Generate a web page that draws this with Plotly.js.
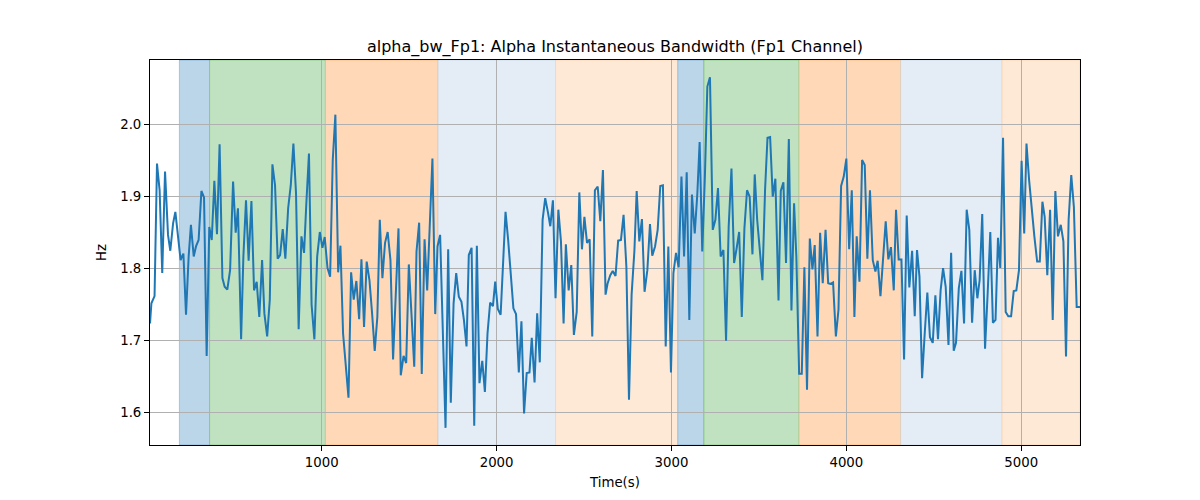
<!DOCTYPE html>
<html>
<head>
<meta charset="utf-8">
<script src="https://cdn.plot.ly/plotly-3.0.1.min.js"></script>
<style>
  body { margin: 0; background: #fff; }
  #plot { width: 1200px; height: 500px; }
</style>
</head>
<body>
<div id="plot"></div>
<script>
// time stamps (s) and instantaneous bandwidth (Hz)
let timeS = [
  18, 26, 44, 58, 73, 88, 104, 121, 134, 150, 163, 178, 193, 201, 209, 224, 239, 252, 268, 281,
  296, 312, 327, 342, 357, 371, 386, 401, 416, 432, 445, 460, 476, 493, 508, 521, 539, 552, 567, 582,
  598, 613, 628, 643, 659, 672, 688, 703, 718, 733, 748, 762, 777, 792, 808, 823, 838, 853, 868, 884,
  899, 912, 927, 942, 958, 974, 989, 1004, 1017, 1033, 1048, 1063, 1078, 1094, 1107, 1122, 1137, 1153, 1168, 1183,
  1198, 1214, 1227, 1242, 1257, 1273, 1288, 1303, 1318, 1332, 1347, 1362, 1377, 1393, 1408, 1423, 1439, 1452, 1468, 1483,
  1498, 1513, 1529, 1542, 1557, 1572, 1588, 1603, 1618, 1633, 1649, 1662, 1677, 1693, 1708, 1723, 1738, 1754, 1769, 1784,
  1799, 1813, 1828, 1841, 1857, 1872, 1887, 1902, 1918, 1933, 1948, 1963, 1979, 1992, 2007, 2023, 2038, 2051, 2066, 2081,
  2096, 2111, 2127, 2142, 2157, 2172, 2188, 2201, 2217, 2232, 2247, 2263, 2278, 2293, 2307, 2322, 2337, 2353, 2368, 2383,
  2396, 2412, 2427, 2442, 2458, 2473, 2488, 2502, 2517, 2532, 2547, 2562, 2578, 2593, 2608, 2623, 2635, 2650, 2664, 2680,
  2695, 2711, 2726, 2742, 2757, 2772, 2788, 2801, 2816, 2831, 2846, 2862, 2877, 2890, 2906, 2921, 2936, 2951, 2967, 2982,
  2997, 3011, 3026, 3041, 3057, 3072, 3087, 3102, 3117, 3133, 3148, 3161, 3176, 3191, 3205, 3220, 3236, 3251, 3266, 3281,
  3297, 3312, 3327, 3343, 3358, 3371, 3387, 3402, 3417, 3432, 3447, 3463, 3476, 3490, 3505, 3520, 3535, 3549, 3564, 3579,
  3594, 3612, 3625, 3640, 3655, 3671, 3686, 3701, 3714, 3730, 3745, 3760, 3775, 3791, 3806, 3819, 3835, 3850, 3865, 3881,
  3896, 3909, 3924, 3940, 3955, 3970, 3985, 4000, 4016, 4031, 4046, 4059, 4075, 4090, 4105, 4120, 4135, 4151, 4166, 4179,
  4195, 4210, 4225, 4240, 4255, 4271, 4284, 4299, 4315, 4330, 4345, 4360, 4376, 4391, 4404, 4418, 4433, 4448, 4463, 4478,
  4494, 4509, 4524, 4539, 4553, 4568, 4584, 4599, 4614, 4627, 4643, 4658, 4673, 4688, 4703, 4719, 4734, 4749, 4762, 4777,
  4793, 4808, 4823, 4838, 4853, 4867, 4880, 4896, 4911, 4926, 4942, 4957, 4972, 4987, 5002, 5017, 5030, 5045, 5060, 5075,
  5091, 5106, 5121, 5134, 5149, 5165, 5180, 5195, 5210, 5226, 5241, 5256, 5271, 5286, 5301, 5317, 5336
];
let bandwidthHz = [
  1.723, 1.751, 1.761, 1.945, 1.908, 1.793, 1.934, 1.846, 1.824, 1.862, 1.878, 1.844, 1.811, 1.816, 1.820, 1.735, 1.816, 1.860, 1.816, 1.830,
  1.839, 1.907, 1.898, 1.678, 1.857, 1.839, 1.921, 1.847, 1.972, 1.786, 1.774, 1.770, 1.797, 1.920, 1.849, 1.883, 1.701, 1.816, 1.894, 1.810,
  1.893, 1.769, 1.781, 1.732, 1.811, 1.737, 1.705, 1.756, 1.944, 1.915, 1.813, 1.818, 1.854, 1.813, 1.883, 1.915, 1.973, 1.904, 1.715, 1.844,
  1.821, 1.890, 1.959, 1.749, 1.701, 1.816, 1.850, 1.828, 1.843, 1.800, 1.788, 1.950, 2.013, 1.794, 1.831, 1.709, 1.668, 1.620, 1.794, 1.756,
  1.782, 1.729, 1.812, 1.718, 1.809, 1.783, 1.737, 1.685, 1.732, 1.867, 1.786, 1.835, 1.850, 1.811, 1.673, 1.765, 1.855, 1.651, 1.678, 1.668,
  1.805, 1.737, 1.663, 1.823, 1.863, 1.653, 1.840, 1.769, 1.862, 1.952, 1.736, 1.830, 1.846, 1.686, 1.578, 1.826, 1.613, 1.751, 1.793, 1.760,
  1.753, 1.728, 1.691, 1.818, 1.828, 1.581, 1.831, 1.640, 1.671, 1.628, 1.709, 1.752, 1.747, 1.781, 1.743, 1.735, 1.806, 1.878, 1.839, 1.788,
  1.744, 1.736, 1.655, 1.726, 1.598, 1.654, 1.655, 1.703, 1.641, 1.737, 1.669, 1.867, 1.897, 1.878, 1.858, 1.894, 1.758, 1.881, 1.837, 1.723,
  1.833, 1.769, 1.804, 1.707, 1.739, 1.905, 1.826, 1.871, 1.835, 1.840, 1.705, 1.908, 1.913, 1.865, 1.936, 1.763, 1.779, 1.790, 1.796, 1.789,
  1.838, 1.839, 1.874, 1.802, 1.617, 1.763, 1.824, 1.907, 1.837, 1.868, 1.767, 1.797, 1.861, 1.817, 1.830, 1.853, 1.914, 1.915, 1.691, 1.830,
  1.655, 1.793, 1.821, 1.801, 1.927, 1.816, 1.933, 1.728, 1.902, 1.848, 1.904, 1.975, 1.823, 1.927, 2.052, 2.065, 1.853, 1.867, 1.911, 1.816,
  1.825, 1.699, 1.857, 1.938, 1.807, 1.825, 1.850, 1.732, 1.855, 1.908, 1.899, 1.819, 1.930, 1.867, 1.827, 1.783, 1.908, 1.981, 1.982, 1.899,
  1.924, 1.755, 1.907, 1.919, 1.807, 1.979, 1.741, 1.890, 1.816, 1.653, 1.653, 1.801, 1.631, 1.841, 1.798, 1.832, 1.705, 1.849, 1.779, 1.853,
  1.779, 1.778, 1.780, 1.705, 1.742, 1.914, 1.927, 1.952, 1.826, 1.908, 1.732, 1.844, 1.781, 1.950, 1.943, 1.813, 1.908, 1.811, 1.795, 1.810,
  1.761, 1.820, 1.865, 1.812, 1.829, 1.769, 1.881, 1.812, 1.812, 1.673, 1.873, 1.773, 1.824, 1.733, 1.825, 1.788, 1.647, 1.709, 1.766, 1.704,
  1.696, 1.762, 1.701, 1.769, 1.800, 1.774, 1.693, 1.821, 1.685, 1.696, 1.772, 1.796, 1.723, 1.881, 1.853, 1.724, 1.797, 1.758, 1.783, 1.875,
  1.688, 1.765, 1.850, 1.724, 1.728, 1.842, 1.800, 1.981, 1.739, 1.733, 1.733, 1.768, 1.769, 1.797, 1.949, 1.848, 1.973, 1.922, 1.881, 1.844,
  1.809, 1.809, 1.892, 1.871, 1.790, 1.881, 1.728, 1.907, 1.844, 1.860, 1.837, 1.677, 1.867, 1.929, 1.885, 1.746, 1.746
];

// shaded segments
let segStart = [186, 359, 1021, 1666, 2337, 3036, 3186, 3730, 4310, 4891];
let segEnd   = [359, 1021, 1666, 2337, 3036, 3186, 3730, 4310, 4891, 5336];
let segColor = ['#bcd6e9', '#c0e2c0', '#ffd9b7', '#e4ecf6', '#fee9d6',
                '#bcd6e9', '#c0e2c0', '#ffd9b7', '#e4ecf6', '#fee9d6'];
// thin edge drawn over each span, same hue with alpha
let segEdge = ['rgba(31,119,180,0.3)', 'rgba(44,160,44,0.3)', 'rgba(255,127,14,0.3)', 'rgba(31,119,180,0.1)', 'rgba(255,127,14,0.15)',
               'rgba(31,119,180,0.3)', 'rgba(44,160,44,0.3)', 'rgba(255,127,14,0.3)', 'rgba(31,119,180,0.1)', 'rgba(255,127,14,0.15)'];

let shapes = [];
for (let i = 0; i < segStart.length; i++) {
    shapes.push({
        type: 'rect', xref: 'x', yref: 'paper',
        x0: segStart[i], x1: segEnd[i], y0: 0, y1: 1,
        fillcolor: segColor[i], line: {width: 1, color: segEdge[i]}, layer: 'below'
    });
}

let trace = {
    x: timeS,
    y: bandwidthHz,
    type: 'scatter',
    mode: 'lines',
    line: {color: '#1f77b4', width: 2},
    hoverinfo: 'x+y'
};

let font = {family: 'DejaVu Sans, sans-serif', size: 13.3, color: '#000'};

let layout = {
    width: 1200, height: 500,
    margin: {l: 150, r: 120, t: 60, b: 55},
    paper_bgcolor: '#fff', plot_bgcolor: '#fff',
    font: font,
    showlegend: false,
    title: {
        text: 'alpha_bw_Fp1: Alpha Instantaneous Bandwidth (Fp1 Channel)',
        font: {family: 'DejaVu Sans, sans-serif', size: 16, color: '#000'},
        x: 0.5, xanchor: 'center', xref: 'paper',
        y: 1 - 46 / 500, yanchor: 'middle', yref: 'container'
    },
    xaxis: {
        range: [18, 5336],
        tickvals: [1000, 2000, 3000, 4000, 5000],
        ticks: 'outside', ticklen: 5, tickcolor: '#000',
        showline: true, mirror: true, linecolor: '#000', linewidth: 1,
        showgrid: true, gridcolor: '#b0b0b0', gridwidth: 1,
        zeroline: false,
        title: {text: 'Time(s)', font: font, standoff: 8}
    },
    yaxis: {
        range: [1.5542, 2.0889],
        tickvals: [1.6, 1.7, 1.8, 1.9, 2.0],
        ticktext: ['1.6', '1.7', '1.8', '1.9', '2.0'],
        ticks: 'outside', ticklen: 5, tickcolor: '#000',
        showline: true, mirror: true, linecolor: '#000', linewidth: 1,
        showgrid: true, gridcolor: '#b0b0b0', gridwidth: 1,
        zeroline: false,
        title: {text: 'Hz', font: font, standoff: 10}
    },
    shapes: shapes
};

Plotly.newPlot('plot', [trace], layout, {displayModeBar: false, staticPlot: true});
</script>
</body>
</html>
